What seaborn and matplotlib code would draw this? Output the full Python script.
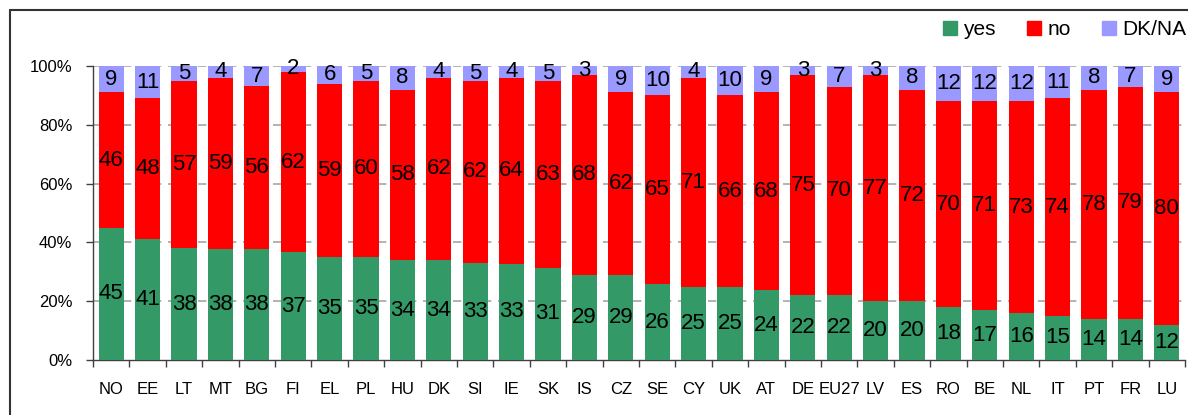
import matplotlib
matplotlib.use("Agg")
import numpy as np
import pandas as pd
import matplotlib.pyplot as plt
import seaborn as sns
from matplotlib.lines import Line2D
from matplotlib.patches import Patch
from matplotlib.ticker import PercentFormatter, FixedLocator

# Data
countries = ['NO', 'EE', 'LT', 'MT', 'BG', 'FI', 'EL', 'PL', 'HU', 'DK', 'SI', 'IE', 'SK', 'IS', 'CZ',
             'SE', 'CY', 'UK', 'AT', 'DE', 'EU27', 'LV', 'ES', 'RO', 'BE', 'NL', 'IT', 'PT', 'FR', 'LU']
yes = [45, 41, 38, 38, 38, 37, 35, 35, 34, 34, 33, 33, 31, 29, 29,
       26, 25, 25, 24, 22, 22, 20, 20, 18, 17, 16, 15, 14, 14, 12]
no = [46, 48, 57, 59, 56, 62, 59, 60, 58, 62, 62, 64, 63, 68, 62,
      65, 71, 66, 68, 75, 70, 77, 72, 70, 71, 73, 74, 78, 79, 80]
dkna = [9, 11, 5, 4, 7, 2, 6, 5, 8, 4, 5, 4, 5, 3, 9,
        10, 4, 10, 9, 3, 7, 3, 8, 12, 12, 12, 11, 8, 7, 9]

green = '#339966'
red = '#FF0000'
lav = '#9999FF'

df = pd.DataFrame({'country': countries, 'yes': yes, 'no': no, 'dk': dkna})
total = df['yes'] + df['no'] + df['dk']
# 100% stacked: scale each bar to its total
df['p_yes'] = df['yes'] / total * 100
df['p_no'] = df['no'] / total * 100
df['p_dk'] = df['dk'] / total * 100
df['top_no'] = df['p_yes'] + df['p_no']
df['top_all'] = df['top_no'] + df['p_dk']

sns.set_style('white')
plt.rcParams['font.family'] = ['Liberation Sans', 'DejaVu Sans']
plt.rcParams['text.color'] = 'black'
plt.rcParams['xtick.color'] = 'black'
plt.rcParams['ytick.color'] = 'black'

fig = plt.figure(figsize=(11.88, 4.15), dpi=100)
ax = fig.add_axes([93 / 1188, 1 - 360 / 415, (1185 - 93) / 1188, (360 - 66) / 415])

# grid behind the bars
for v in [20, 40, 60, 80, 100]:
    ax.axhline(v, color='#a6a6a6', lw=1.2, ls=(0, (5, 4)), zorder=0)

bw = 0.69
sns.barplot(data=df, x='country', y='top_all', color=lav, width=bw, saturation=1, linewidth=0, ax=ax, zorder=2)
sns.barplot(data=df, x='country', y='top_no', color=red, width=bw, saturation=1, linewidth=0, ax=ax, zorder=3)
sns.barplot(data=df, x='country', y='p_yes', color=green, width=bw, saturation=1, linewidth=0, ax=ax, zorder=4)

# value labels centred in each segment
for i, row in df.iterrows():
    ax.text(i, row['p_yes'] / 2, str(row['yes']), ha='center', va='center', fontsize=16, zorder=5)
    ax.text(i, row['p_yes'] + row['p_no'] / 2, str(row['no']), ha='center', va='center', fontsize=16, zorder=5)
    ax.text(i, row['top_no'] + row['p_dk'] / 2, str(row['dk']), ha='center', va='center', fontsize=16, zorder=5)

ax.set_xlim(-0.5, len(countries) - 0.5)
ax.set_ylim(0, 100)
ax.set_xlabel('')
ax.set_ylabel('')
ax.yaxis.set_major_formatter(PercentFormatter(decimals=0))
ax.set_yticks([0, 20, 40, 60, 80, 100])
ax.xaxis.set_minor_locator(FixedLocator(np.arange(-0.5, len(countries), 1)))
ax.tick_params(axis='x', which='major', length=0, pad=16, labelsize=12, labelcolor='black')
ax.tick_params(axis='x', which='minor', bottom=True, length=5, width=1, color='#404040', direction='out')
ax.tick_params(axis='y', which='major', left=True, length=5, width=1, color='#404040',
               direction='out', pad=10, labelsize=12, labelcolor='black')

for s in ['top', 'right']:
    ax.spines[s].set_visible(False)
for s in ['left', 'bottom']:
    ax.spines[s].set_color('#404040')
    ax.spines[s].set_linewidth(1)

handles = [Patch(color=green, label='yes'), Patch(color=red, label='no'), Patch(color=lav, label='DK/NA')]
fig.legend(handles=handles, loc='center right', bbox_to_anchor=(0.9985, 0.928), ncol=3, frameon=False,
           fontsize=15, handlelength=0.67, handleheight=0.67, handletextpad=0.3, columnspacing=1.5,
           borderpad=0, borderaxespad=0, labelcolor='black')

# outer frame (left and top edges only are visible)
fig.add_artist(Line2D([10 / 1188, 10 / 1188], [0, 1 - 10 / 415], color='#333333', lw=1.5))
fig.add_artist(Line2D([10 / 1188, 1], [1 - 10 / 415, 1 - 10 / 415], color='#333333', lw=1.5))

fig.savefig('out.png', dpi=100)
